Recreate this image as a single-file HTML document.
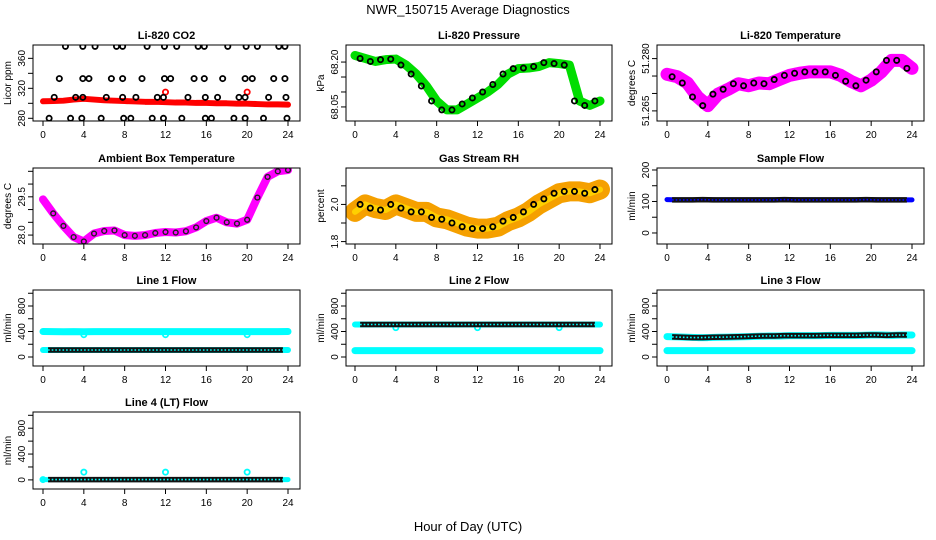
<!DOCTYPE html>
<html><head><meta charset="utf-8"><style>
body{margin:0;background:#fff}
svg{display:block;font-family:"Liberation Sans",sans-serif}
</style></head><body>
<svg id="c" width="936" height="540" viewBox="0 0 936 540">
<defs id="defs"></defs>
<text x="468" y="14" text-anchor="middle" font-size="13">NWR_150715  Average Diagnostics</text>
<text x="468" y="531" text-anchor="middle" font-size="13">Hour of Day (UTC)</text>
</svg>
<script>
// ---- data ----
const hours = [0,1,2,3,4,5,6,7,8,9,10,11,12,13,14,15,16,17,18,19,20,21,22,23,24];
const co2Red = [302.7,303,303.5,305,306,305,304,303.5,303,302.5,302,302,301.5,301,301,300.5,300.5,300,300,299.5,299.5,299,298.5,298.5,298.2];
const co2BlkHours = [2.2,3.9,5.1,7.2,7.8,10.2,11.9,13.1,15.2,15.8,18.1,19.9,21.0,23.1,23.7,1.6,3.9,4.5,6.7,7.8,9.7,11.9,12.5,14.8,15.8,17.6,19.8,20.5,22.6,23.7,1.1,3.2,3.9,6.2,7.8,9.1,11.2,11.8,14.2,15.9,17.1,19.2,19.8,22.1,23.8,0.6,2.7,3.8,5.7,7.9,8.6,10.7,11.8,13.6,15.9,16.5,18.7,19.8,21.6,23.9];
const co2BlkVals = [376,376,376,376,376,376,376,376,376,376,376,376,376,376,376,333,333,333,333,333,333,333,333,333,333,333,333,333,333,333,308,308,308,308,308,308,308,308,308,308,308,308,308,308,308,280,280,280,280,280,280,280,280,280,280,280,280,280,280,280];
const pressVals = [68.222,68.212,68.202,68.208,68.21,68.19,68.16,68.12,68.07,68.04,68.04,68.06,68.08,68.1,68.125,68.16,68.178,68.18,68.185,68.198,68.195,68.19,68.07,68.055,68.07];
const tempVals = [51.2755,51.2748,51.273,51.269,51.2665,51.2698,51.2712,51.2728,51.2722,51.273,51.2728,51.274,51.2752,51.2758,51.2762,51.2762,51.2762,51.2752,51.2735,51.2722,51.2738,51.2762,51.2795,51.2795,51.2772];
const ambVals = [29.4,28.85,28.36,27.92,27.75,28.06,28.16,28.18,28.0,27.97,28.0,28.08,28.12,28.1,28.15,28.3,28.55,28.68,28.5,28.45,28.6,29.47,30.28,30.5,30.55];
const rhVals = [1.96,2.0,1.98,1.97,2.0,1.98,1.96,1.96,1.93,1.92,1.9,1.88,1.87,1.87,1.88,1.91,1.93,1.96,2.0,2.03,2.06,2.07,2.07,2.06,2.08];
const sampleVals = [106,105,105,105,106,105,105,105,105,105,105,105,106,105,105,105,105,105,105,105,106,105,105,105,105];
const l1Cyan = [400,398,396,398,396,398,398,398,398,398,398,398,398,398,398,398,398,398,398,398,398,398,398,398,400];
const l1Blk = [110,110,110,110,110,110,110,110,110,110,110,110,110,110,110,110,110,110,110,110,110,110,110,110,110];
const l2Cyan = [100,100,100,100,100,100,100,100,100,100,100,100,100,100,100,100,100,100,100,100,100,100,100,100,100];
const l2Blk = [510,510,510,510,510,510,510,510,510,510,510,510,510,510,510,510,510,510,510,510,510,510,510,510,510];
const l3Cyan = [100,100,100,100,100,100,100,100,100,100,100,100,100,100,100,100,100,100,100,100,100,100,100,100,100];
const l3Blk = [320,315,310,305,305,310,312,315,320,325,330,330,335,335,335,335,340,340,340,340,345,345,340,345,345];
const l4Blk = [5,5,5,5,5,5,5,5,5,5,5,5,5,5,5,5,5,5,5,5,5,5,5,5,5];
const l4CyanHours = [0,4,12,20];
const l4CyanVals = [5,120,120,120];
const xTicks = [0,4,8,12,16,20,24];

// ---- layout ----
const NS='http://www.w3.org/2000/svg';
const svg=document.getElementById('c');
const defs=document.getElementById('defs');
const colX0=[43,355,667], colBox=[[33,300],[346,612],[657,924]];
const rowBox=[[45,121],[168,244],[290,366],[412,489]];
function mk(tag,attrs,parent){const e=document.createElementNS(NS,tag);for(const k in attrs)e.setAttribute(k,attrs[k]);(parent||svg).appendChild(e);return e;}
let clipN=0;
function panel(name,title,ylab,col,row,dom,ticks,labels,draw){
  const g=mk('g',{});
  
  
  const [bx0,bx1]=colBox[col],[by0,by1]=rowBox[row];
  const xs=h=>colX0[col]+h*245/24;
  const ys=v=>by1-(v-dom[0])/(dom[1]-dom[0])*(by1-by0);
  const t=mk('text',{x:(bx0+bx1)/2,y:by0-6,'text-anchor':'middle','font-size':11,'font-weight':'bold'},g);
  t.textContent=title;
  
  
  const cid='clip'+(clipN++);
  const cp=mk('clipPath',{id:cid},defs);
  mk('rect',{x:bx0,y:by0,width:bx1-bx0,height:by1-by0},cp);
  const plot=mk('g',{'clip-path':`url(#${cid})`},g);
  
  
  draw(plot,xs,ys);
  const box=mk('rect',{x:bx0,y:by0,width:bx1-bx0,height:by1-by0,fill:'none',stroke:'#000','stroke-width':1},g);
  
  
  const xa=mk('g',{},g);
  
  
  xTicks.forEach(h=>{const x=xs(h);mk('line',{x1:x,x2:x,y1:by1,y2:by1+5,stroke:'#000'},xa);
    const l=mk('text',{x:x,y:by1+17,'text-anchor':'middle','font-size':10},xa);l.textContent=h;});
  const ya=mk('g',{},g);
  
  
  const tys=ticks.map(ys);
  mk('line',{x1:bx0,x2:bx0,y1:Math.min(...tys),y2:Math.max(...tys),stroke:'#000'},ya);
  ticks.forEach((v,i)=>{const y=ys(v);mk('line',{x1:bx0-5,x2:bx0,y1:y,y2:y,stroke:'#000'},ya);
    if(labels[i]){const l=mk('text',{x:0,y:0,'text-anchor':'middle','font-size':10,transform:`translate(${bx0-8},${y}) rotate(-90)`},ya);l.textContent=labels[i];}});
  const yl=mk('text',{x:0,y:0,'text-anchor':'middle','font-size':10,transform:`translate(${bx0-22},${(by0+by1)/2}) rotate(-90)`},g);
  yl.textContent=ylab;
  
  
}
function band(p,xs,ys,hs,vals,color,w){
  const pts=hs.map((h,i)=>xs(h)+','+ys(vals[i])).join(' ');
  const l=mk('polyline',{points:pts,fill:'none',stroke:color,'stroke-width':w,'stroke-linejoin':'round','stroke-linecap':'round'},p);
  
  
}
function dots(p,xs,ys,hs,vals,color,r,sw){
  hs.forEach((h,i)=>{const c=mk('circle',{cx:xs(h),cy:ys(vals[i]),r:r||2.6,fill:'none',stroke:color||'#000','stroke-width':sw||1.8},p);
    
    });
}
function dense(p,xs,ys,hs,vals,under){
  const pts=hs.map((h,i)=>xs(h)+','+ys(vals[i])).join(' ');
  const l=mk('polyline',{points:pts,fill:'none',stroke:'#111','stroke-width':5.5},p);
  
  
  mk('polyline',{points:pts,fill:'none',stroke:under||'#fff','stroke-width':1.6,'stroke-dasharray':'1.6 2'},p);
}
const hb=hours.slice(1).map(h=>h-0.5).concat([23.9]);

panel('panel-co2','Li-820 CO2','Licor ppm',0,0,[276.4,377.8],[280,300,320,340,360],['280','','320','','360'],(p,xs,ys)=>{
  band(p,xs,ys,hours,co2Red,'#f00',6);
  dots(p,xs,ys,[12,20],[315,315],'#f00');
  dots(p,xs,ys,co2BlkHours,co2BlkVals);
});
panel('panel-pressure','Li-820 Pressure','kPa',1,0,[68.003,68.257],[68.05,68.10,68.15,68.20],['68.05','','','68.20'],(p,xs,ys)=>{
  band(p,xs,ys,hours,pressVals,'#0d0',9);
  dots(p,xs,ys,hb,pressVals.slice(1),'#000');
});
panel('panel-temperature','Li-820 Temperature','degrees C',2,0,[51.2621,51.2839],[51.265,51.270,51.275,51.280],['51.265','','','51.280'],(p,xs,ys)=>{
  band(p,xs,ys,hours,tempVals,'#f0f',13);
  dots(p,xs,ys,hb,tempVals.slice(1),'#000');
});
panel('panel-ambient','Ambient Box Temperature','degrees C',0,1,[27.65,30.63],[28.0,28.5,29.0,29.5,30.0,30.5],['28.0','','','29.5','',''],(p,xs,ys)=>{
  band(p,xs,ys,hours,ambVals,'#f0f',8);
  dots(p,xs,ys,hours.slice(1),ambVals.slice(1),'#222',2.4,1.4);
});
panel('panel-rh','Gas Stream RH','percent',1,1,[1.787,2.196],[1.8,1.9,2.0,2.1],['1.8','','2.0',''],(p,xs,ys)=>{
  band(p,xs,ys,hours,rhVals,'#f5a000',20);
  band(p,xs,ys,hours,rhVals,'#ffd000',6);
  dots(p,xs,ys,hb,rhVals.slice(1),'#000');
});
panel('panel-sample-flow','Sample Flow','ml/min',2,1,[-35,206.3],[0,50,100,150,200],['0','','100','','200'],(p,xs,ys)=>{
  band(p,xs,ys,hours,sampleVals,'#00f',5);
  dense(p,xs,ys,hb,sampleVals.slice(1),'#00f');
});
const flowTicks=[0,200,400,600,800,1000], flowLabels=['0','','400','','800',''];
panel('panel-line1','Line 1 Flow','ml/min',0,2,[-141,1051],flowTicks,flowLabels,(p,xs,ys)=>{
  band(p,xs,ys,hours,l1Cyan,'#0ff',7);
  dots(p,xs,ys,[4,12,20],[350,350,350],'#0ff');
  band(p,xs,ys,hours,l1Blk,'#0ff',6);
  dense(p,xs,ys,hb,l1Blk.slice(1),'#0ff');
});
panel('panel-line2','Line 2 Flow','ml/min',1,2,[-141,1051],flowTicks,flowLabels,(p,xs,ys)=>{
  band(p,xs,ys,hours,l2Cyan,'#0ff',7);
  band(p,xs,ys,hours,l2Blk,'#0ff',6);
  dots(p,xs,ys,[4,12,20],[460,460,460],'#0ff');
  dense(p,xs,ys,hb,l2Blk.slice(1),'#0ff');
});
panel('panel-line3','Line 3 Flow','ml/min',2,2,[-141,1051],flowTicks,flowLabels,(p,xs,ys)=>{
  band(p,xs,ys,hours,l3Cyan,'#0ff',7);
  band(p,xs,ys,hours,l3Blk,'#0ff',7);
  dense(p,xs,ys,hb,l3Blk.slice(1),'#0ff');
});
panel('panel-line4','Line 4 (LT) Flow','ml/min',0,3,[-141,1051],flowTicks,flowLabels,(p,xs,ys)=>{
  band(p,xs,ys,hours,l4Blk,'#0ff',5);
  dots(p,xs,ys,l4CyanHours,l4CyanVals,'#0ff');
  dense(p,xs,ys,hb,l4Blk.slice(1),'#0ff');
});
</script>
</body></html>
